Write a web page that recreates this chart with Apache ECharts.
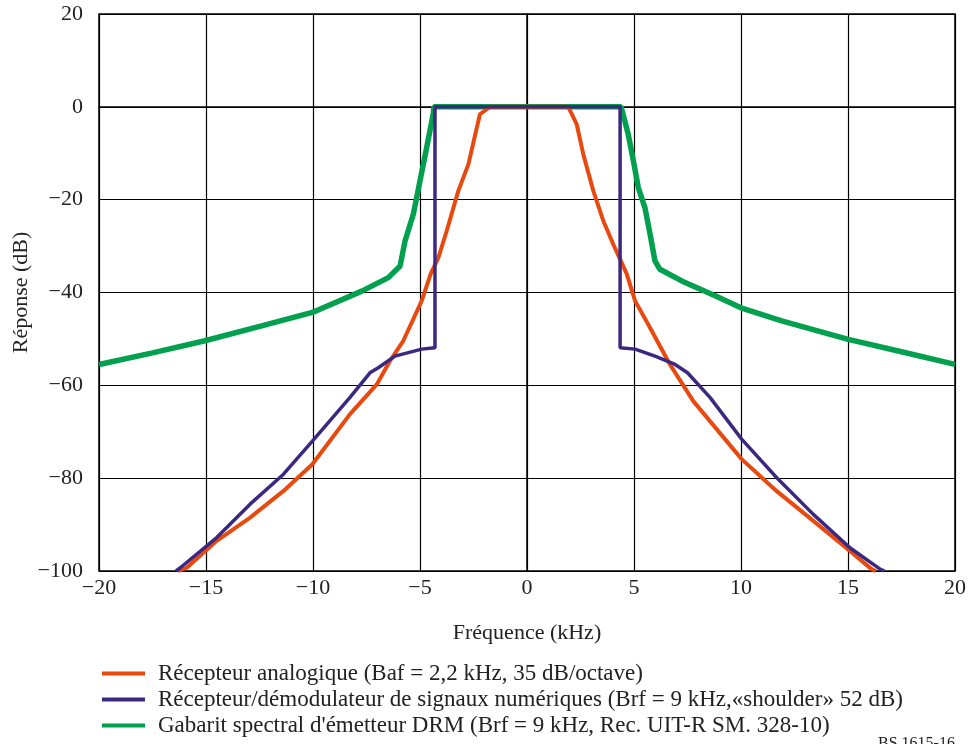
<!DOCTYPE html>
<html>
<head>
<meta charset="utf-8">
<script src="https://cdn.jsdelivr.net/npm/echarts@6/dist/echarts.min.js"></script>
<style>
html,body{margin:0;padding:0;background:#fff;}
#chart{width:969px;height:744px;}
</style>
</head>
<body>
<div id="chart"></div>
<script>
// ---- Data ----
const xTicks = [-20, -15, -10, -5, 0, 5, 10, 15, 20];
const yTicks = [20, 0, -20, -40, -60, -80, -100];

const seriesNames = [
  "Récepteur analogique (Baf = 2,2 kHz, 35 dB/octave)",
  "Récepteur/démodulateur de signaux numériques (Brf = 9 kHz,«shoulder» 52 dB)",
  "Gabarit spectral d'émetteur DRM (Brf = 9 kHz, Rec. UIT-R SM. 328-10)"
];

// Analog receiver (orange)
const analogKHz = [-16.3, -15.9, -14.5, -12.94, -11.39, -10.03, -8.27, -7.02, -6.4, -5.78, -4.92, -4.5, -4.14, -3.75, -3.21, -2.74, -2.2, -1.73,
                   1.93, 2.32, 2.63, 3.1, 3.57, 4.03, 4.66, 5.05, 5.75, 6.68, 7.77, 10.03, 11.67, 13.38, 15.09, 16.1, 16.3];
const analogDB  = [-100, -99.3, -93.5, -88.5, -82.8, -77, -66.2, -59.8, -54.7, -50.4, -41.8, -36, -32.5, -26.7, -18.1, -12.4, -1.6, 0,
                   0, -3.7, -10.2, -18.1, -24.6, -29.6, -36, -41.8, -47.6, -55.5, -63.4, -75.9, -82.8, -89.2, -95.7, -99.6, -100];

// Digital receiver/demodulator (blue)
const digitalKHz = [-16.4, -16.2, -14.5, -12.94, -11.39, -10.03, -8.27, -7.34, -6.95, -6.17, -4.92, -4.3, -4.3,
                    4.35, 4.35, 5.05, 5.98, 6.92, 7.5, 8.55, 10.03, 11.67, 13.38, 15.09, 16.5, 16.7];
const digitalDB  = [-100, -99.3, -92.8, -85.6, -79.2, -72, -62.6, -57.3, -56.2, -53.7, -52.2, -51.9, 0,
                    0, -51.9, -52.2, -53.7, -55.5, -57.3, -62.6, -71.6, -79.9, -87.8, -95, -99.6, -100];

// DRM transmitter spectral mask (green)
const drmKHz = [-20, -17.5, -15.05, -12.4, -10.03, -7.72, -6.48, -5.93, -5.7, -5.31, -4.69, -4.38, -4.35,
                4.4, 4.73, 4.97, 5.2, 5.51, 5.75, 5.98, 6.21, 7.23, 8.79, 10, 11.9, 15.01, 17.35, 20];
const drmDB  = [-55.5, -53, -50.4, -47.2, -44.3, -39.7, -36.8, -34.3, -28.9, -23.1, -8.8, -1.5, 0,
                0, -5.9, -11.6, -17.4, -21.7, -27.4, -33.2, -35, -37.5, -40.7, -43.3, -46.1, -50.1, -52.6, -55.5];

const colors = ['#E8490F', '#3B2880', '#00A04E'];

function pairs(xs, ys){ return xs.map((x,i)=>[x, ys[i]]); }
function fmt(v){ return v < 0 ? '\u2212' + Math.abs(v) : String(v); }

const font = '"Liberation Serif", "Times New Roman", serif';
const chart = echarts.init(document.getElementById('chart'), null, {renderer:'canvas'});

chart.setOption({
  backgroundColor: '#fff',
  animation: false,
  grid: { left: 99, right: 14, top: 14, bottom: 173, show: true, borderColor: '#000', borderWidth: 1.5,
          containLabel: false, outerBoundsMode: 'none' },
  xAxis: {
    type: 'value', min: xTicks[0], max: xTicks[xTicks.length-1], interval: 5,
    name: 'Fréquence (kHz)', nameLocation: 'middle', nameGap: 51, nameMoveOverlap: false,
    nameTextStyle: { fontFamily: font, fontSize: 22, color: '#222' },
    axisLine: { lineStyle: { color: '#000', width: 1.5 } },
    axisTick: { show: false },
    axisLabel: { formatter: fmt, fontFamily: font, fontSize: 22, color: '#222', margin: 6 },
    splitLine: { show: true, lineStyle: { color: '#000', width: 1.2 } }
  },
  yAxis: {
    type: 'value', min: yTicks[yTicks.length-1], max: yTicks[0], interval: 20,
    name: 'Réponse (dB)', nameLocation: 'middle', nameGap: 67, nameMoveOverlap: false,
    nameTextStyle: { fontFamily: font, fontSize: 22, color: '#222' },
    axisLine: { show: true, lineStyle: { color: '#000', width: 1.5 } },
    axisTick: { show: false },
    axisLabel: { formatter: fmt, fontFamily: font, fontSize: 22, color: '#222', margin: 16 },
    splitLine: { show: true, lineStyle: { color: '#000', width: 1.2 } }
  },
  legend: {
    orient: 'vertical', left: 97, top: 657, itemGap: 3,
    itemWidth: 43, itemHeight: 4, icon: 'rect',
    textStyle: { fontFamily: font, fontSize: 23, color: '#222', padding: [0,0,0,8] },
    data: [seriesNames[0], seriesNames[1], seriesNames[2]]
  },
  series: [
    { name: seriesNames[2], type: 'line', data: pairs(drmKHz, drmDB), showSymbol: false, symbol: 'none',
      lineStyle: { color: colors[2], width: 5.5 }, itemStyle: { color: colors[2] }, z: 2 },
    { name: seriesNames[0], type: 'line', data: pairs(analogKHz, analogDB), showSymbol: false, symbol: 'none',
      lineStyle: { color: colors[0], width: 4 }, itemStyle: { color: colors[0] }, z: 3 },
    { name: seriesNames[1], type: 'line', data: pairs(digitalKHz, digitalDB), showSymbol: false, symbol: 'none',
      lineStyle: { color: colors[1], width: 3.5 }, itemStyle: { color: colors[1] }, z: 4 }
  ],
  graphic: [
    { type: 'text', left: 878, top: 736, style: { text: 'BS 1615-16', font: '16px ' + font, fill: '#222' } }
  ]
});
</script>
</body>
</html>
